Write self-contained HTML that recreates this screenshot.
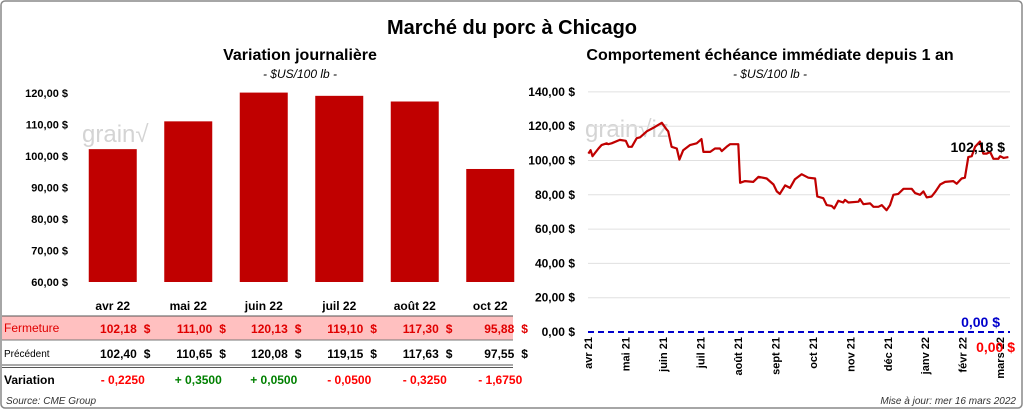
<!DOCTYPE html>
<html><head><meta charset="utf-8">
<style>
body{margin:0;background:#fff;font-family:"Liberation Sans",Arial,sans-serif;}
#wrap{position:relative;width:1024px;height:410px;overflow:hidden;}
svg text{font-family:"Liberation Sans",Arial,sans-serif;}
</style></head>
<body>
<div id="wrap">
<svg id="svg" width="1024" height="410" xmlns="http://www.w3.org/2000/svg">
<rect x="1" y="1" width="1021" height="407" rx="4" fill="#fff" stroke="#888" stroke-width="1.5"/>
<text x="512" y="34" text-anchor="middle" font-size="20" font-weight="bold">Marché du porc à Chicago</text>
<text x="300" y="60" text-anchor="middle" font-size="16" font-weight="bold">Variation  journalière</text>
<text x="300" y="78" text-anchor="middle" font-size="12" font-style="italic">- $US/100 lb -</text>
<text x="770" y="60" text-anchor="middle" font-size="16" font-weight="bold">Comportement  échéance immédiate depuis 1 an</text>
<text x="770" y="78" text-anchor="middle" font-size="12" font-style="italic">- $US/100 lb -</text>
<text x="82" y="142" font-size="24" fill="#d4d4d4">grain√</text>
<text x="585" y="137" font-size="24" fill="#d4d4d4">grain√iz</text>
<g id="left"></g>
<g id="right"></g>
<g id="table"></g>
<text x="6" y="404" font-size="10" font-style="italic" fill="#333">Source: CME Group</text>
<text x="1016" y="404" text-anchor="end" font-size="10" font-style="italic" fill="#333">Mise à jour: mer 16 mars 2022</text>
</svg>
</div>
<script>
const barCats=["avr 22","mai 22","juin 22","juil 22","août 22","oct 22"];
const closeVals=[102.18,111.00,120.13,119.10,117.30,95.88];
const prevVals=[102.40,110.65,120.08,119.15,117.63,97.55];
const varVals=[-0.2250,0.3500,0.0500,-0.0500,-0.3250,-1.6750];
const leftTicks=[60,70,80,90,100,110,120];
const rightTicks=[0,20,40,60,80,100,120,140];
const monthLabels=["avr 21","mai 21","juin 21","juil 21","août 21","sept 21","oct 21","nov 21","déc 21","janv 22","févr 22","mars 22"];
const lineT=[0.01,0.07,0.12,0.28,0.36,0.50,0.54,0.63,0.85,1.01,1.08,1.17,1.30,1.39,1.57,1.74,1.97,2.10,2.14,2.23,2.37,2.44,2.54,2.72,2.90,3.03,3.08,3.26,3.39,3.52,3.57,3.70,3.79,4.01,4.06,4.19,4.41,4.55,4.77,4.95,5.04,5.12,5.26,5.39,5.52,5.70,5.88,6.06,6.12,6.28,6.37,6.50,6.57,6.68,6.81,6.86,6.95,7.22,7.26,7.35,7.53,7.62,7.75,7.84,7.97,8.06,8.15,8.28,8.42,8.64,8.73,8.86,8.95,9.04,9.17,9.26,9.40,9.53,9.75,9.84,9.97,10.06,10.15,10.24,10.33,10.46,10.55,10.64,10.73,10.82,10.95,11.00,11.09,11.22];
const lineV=[104,106,102.5,107,109,110,109.5,110,112,111.5,108,108,113,113.5,117,119,122,118,117,108,107,100.5,106,109,110,112.5,105,105,107,107,105.5,108,109.5,109.5,87,88,87.5,90.5,89.5,86,82,80.5,85.5,84,89,92,90,89.5,79,78,74,73.5,72,76.5,75.5,77,75.5,76,77.5,74.5,75,73,73,74,71,74,80,80.5,83.5,83.5,81,80,82,78.5,79,81.5,86,87.5,88,86.5,89.5,90,102,102.5,108,111,104,104,105,101,101,102.5,101.5,102];
const lastVal=102.18;
const NS="http://www.w3.org/2000/svg";
function mk(tag,attrs,parent,txt){const e=document.createElementNS(NS,tag);for(const k in attrs)e.setAttribute(k,attrs[k]);if(txt!==undefined)e.textContent=txt;parent.appendChild(e);return e;}
function fmt(v){return v.toFixed(2).replace('.',',');}
const L=document.getElementById('left');
const lx0=75,lx1=528,ly=v=>282-(v-60)*3.15;
const bw=(lx1-lx0)/barCats.length;
const bx=i=>lx0+bw*(i+0.5);
leftTicks.forEach(t=>{
 const tx=mk('text',{x:68,y:ly(t)+4,'text-anchor':'end','font-size':11,'font-weight':'bold'},L,fmt(t)+' $');
 
 
});
closeVals.forEach((v,i)=>{
 const r=mk('rect',{x:bx(i)-24,y:ly(v),width:48,height:ly(60)-ly(v),fill:'#c00000'},L);
 
 
});
const T=document.getElementById('table');
mk('rect',{x:2,y:316,width:511,height:24,fill:'#ffc0c0'},T);
mk('line',{x1:2,x2:513,y1:316,y2:316,stroke:'#555'},T);
mk('line',{x1:2,x2:513,y1:340,y2:340,stroke:'#777'},T);
mk('line',{x1:2,x2:513,y1:365,y2:365,stroke:'#555'},T);
mk('line',{x1:2,x2:513,y1:367.5,y2:367.5,stroke:'#555'},T);
barCats.forEach((c,i)=>{
 const h=mk('text',{x:bx(i),y:310,'text-anchor':'middle','font-size':12,'font-weight':'bold'},T,c);
 
 
 const a=mk('text',{x:bx(i)+24,y:333,'text-anchor':'end','font-size':12,'font-weight':'bold',fill:'#e00000'},T,fmt(closeVals[i]));
 
 
 mk('text',{x:bx(i)+31,y:333,'font-size':12,'font-weight':'bold',fill:'#e00000'},T,'$');
 const b=mk('text',{x:bx(i)+24,y:358,'text-anchor':'end','font-size':12,'font-weight':'bold'},T,fmt(prevVals[i]));
 
 
 mk('text',{x:bx(i)+31,y:358,'font-size':12,'font-weight':'bold'},T,'$');
 const v=varVals[i];
 const d=mk('text',{x:bx(i)+10,y:384,'text-anchor':'middle','font-size':12,'font-weight':'bold',fill:v<0?'#ff0000':'#008000'},T,(v<0?'- ':'+ ')+Math.abs(v).toFixed(4).replace('.',','));
 
 
});
mk('text',{x:4,y:332,'font-size':12,fill:'#e00000'},T,'Fermeture');
mk('text',{x:4,y:357,'font-size':10},T,'Précédent');
mk('text',{x:4,y:384,'font-size':12,'font-weight':'bold'},T,'Variation');
const R=document.getElementById('right');
const rx0=588,rx1=1010,ry=v=>332-v*1.715,rx=t=>rx0+t*37.47;
rightTicks.forEach(t=>{
 if(t>0){const g=mk('line',{x1:rx0,x2:rx1,y1:ry(t),y2:ry(t),stroke:'#e0e0e0'},R);
 
 }
 const tx=mk('text',{x:575,y:ry(t)+4,'text-anchor':'end','font-size':12,'font-weight':'bold'},R,fmt(t)+' $');
 
 
});
monthLabels.forEach((m,i)=>{
 const tx=mk('text',{transform:'translate('+(rx(i)+4)+',337) rotate(-90)','text-anchor':'end','font-size':11,'font-weight':'bold'},R,m);
 
 
});
const z=mk('line',{x1:rx0,x2:rx1,y1:ry(0),y2:ry(0),stroke:'#0000cc','stroke-width':2,'stroke-dasharray':'6,4'},R);


const pts=lineT.map((t,i)=>rx(t).toFixed(1)+','+ry(lineV[i]).toFixed(1)).join(' ');
const pl=mk('polyline',{points:pts,fill:'none',stroke:'#c00000','stroke-width':2.2,'stroke-linejoin':'round'},R);


const lbl=mk('text',{x:1005,y:ry(lastVal)-5,'text-anchor':'end','font-size':14,'font-weight':'bold'},R,fmt(lastVal)+' $');


const zl=mk('text',{x:1000,y:327,'text-anchor':'end','font-size':14,'font-weight':'bold',fill:'#0000cc'},R,'0,00 $');


const zl2=mk('text',{x:1015,y:352,'text-anchor':'end','font-size':14,'font-weight':'bold',fill:'#ff0000'},R,'0,00 $');


</script>
</body></html>
